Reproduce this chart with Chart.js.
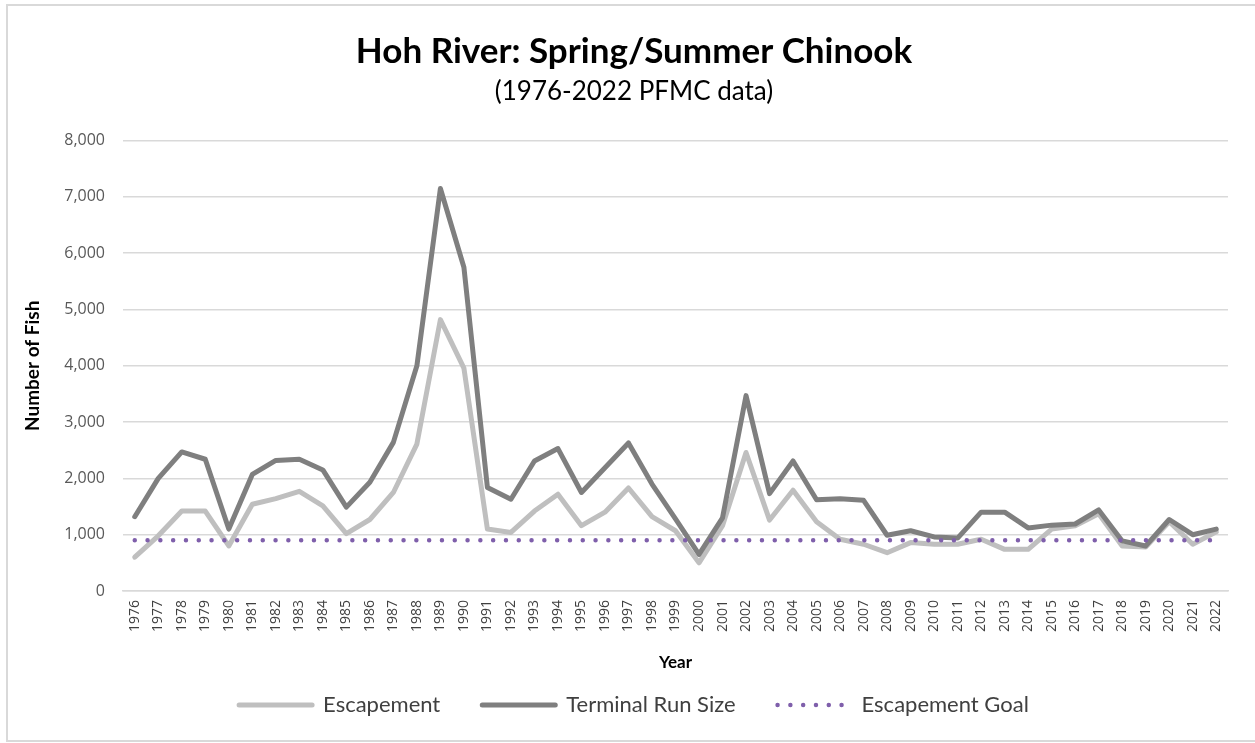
<!DOCTYPE html>
<html>
<head>
<meta charset="utf-8">
<script src="https://cdn.jsdelivr.net/npm/chart.js@4/dist/chart.umd.min.js"></script>
<style>
html,body{margin:0;padding:0;background:#fff;}
#c{display:block;}
</style>
</head>
<body>
<canvas id="c" width="1255" height="743"></canvas>
<script>
const years = ['1976','1977','1978','1979','1980','1981','1982','1983','1984','1985','1986','1987','1988','1989','1990','1991','1992','1993','1994','1995','1996','1997','1998','1999','2000','2001','2002','2003','2004','2005','2006','2007','2008','2009','2010','2011','2012','2013','2014','2015','2016','2017','2018','2019','2020','2021','2022'];
const escapement = [600,980,1420,1420,800,1540,1640,1770,1510,1020,1270,1750,2610,4820,3960,1100,1040,1420,1720,1160,1400,1830,1320,1070,500,1160,2460,1260,1790,1230,920,830,680,860,830,830,920,740,740,1100,1160,1370,800,780,1230,830,1050];
const terminalRunSize = [1320,2000,2470,2340,1100,2070,2320,2340,2150,1490,1930,2640,4000,7150,5750,1840,1630,2310,2530,1750,2190,2630,1900,1280,650,1300,3470,1730,2310,1620,1640,1610,990,1070,960,940,1400,1400,1120,1170,1190,1440,890,800,1270,1000,1100];
const escapementGoal = [900,900,900,900,900,900,900,900,900,900,900,900,900,900,900,900,900,900,900,900,900,900,900,900,900,900,900,900,900,900,900,900,900,900,900,900,900,900,900,900,900,900,900,900,900,900,900];
const yTicks = [0,1000,2000,3000,4000,5000,6000,7000,8000];

const frame = {
  id: 'frame',
  beforeDraw(chart) {
    const ctx = chart.ctx;
    ctx.save();
    ctx.fillStyle = '#ffffff';
    ctx.fillRect(0, 0, chart.width, chart.height);
    ctx.strokeStyle = '#d9d9d9';
    ctx.lineWidth = 2;
    ctx.strokeRect(7, 5, 1260, 736);
    ctx.restore();
  }
};

new Chart(document.getElementById('c'), {
  type: 'line',
  data: {
    labels: years,
    datasets: [
      { label: 'Escapement', data: escapement, borderColor: '#bfbfbf', backgroundColor: '#bfbfbf', borderWidth: 5, pointRadius: 0, tension: 0, order: 2, borderCapStyle: 'round', borderJoinStyle: 'round' },
      { label: 'Terminal Run Size', data: terminalRunSize, borderColor: '#7f7f7f', backgroundColor: '#7f7f7f', borderWidth: 5, pointRadius: 0, tension: 0, order: 1, borderCapStyle: 'round', borderJoinStyle: 'round' },
      { label: 'Escapement Goal', data: escapementGoal, borderColor: '#7f5fab', backgroundColor: '#7f5fab', borderWidth: 4.5, borderDash: [0, 12.8], borderCapStyle: 'round', pointRadius: 0, tension: 0, order: 0 }
    ]
  },
  options: {
    responsive: false,
    animation: false,
    devicePixelRatio: 1,
    layout: { padding: { left: 40, right: 27, top: 0, bottom: 17 } },
    plugins: {
      title: { display: true, text: 'Hoh River: Spring/Summer Chinook', color: '#000', font: { family: 'Lato', weight: 'bold', size: 35 }, padding: { top: 31, bottom: 0 } },
      subtitle: { display: true, text: '(1976-2022 PFMC data)', color: '#000', font: { family: 'Lato', size: 26 }, padding: { top: 3.4, bottom: 33 } },
      legend: {
        position: 'bottom',
        labels: {
          usePointStyle: true, pointStyle: 'line', pointStyleWidth: 73, color: '#404040',
          font: { family: 'Lato', size: 22 }, padding: 42,
          sort: (a, b) => a.datasetIndex - b.datasetIndex,
          generateLabels(chart) {
            const items = Chart.defaults.plugins.legend.labels.generateLabels(chart);
            items.forEach((it) => {
              const ds = chart.data.datasets[it.datasetIndex];
              it.strokeStyle = ds.borderColor;
              it.lineWidth = ds.borderWidth;
              it.lineDash = ds.borderDash || [];
              it.lineCap = ds.borderCapStyle || 'butt';
            });
            return items;
          }
        }
      },
      tooltip: { enabled: false }
    },
    scales: {
      x: {
        offset: true,
        grid: { display: false, drawTicks: false },
        border: { display: true, color: '#d9d9d9', width: 1.5 },
        ticks: { autoSkip: false, minRotation: 90, maxRotation: 90, color: '#404040', font: { family: 'Open Sans', size: 14 }, padding: 9 },
        title: { display: true, text: 'Year', color: '#000', font: { family: 'Lato', weight: 'bold', size: 17 }, padding: { top: 0, bottom: -21.2 } },
        afterFit(s) { s.height = 61; }
      },
      y: {
        min: 0, max: 8000,
        afterBuildTicks(s) { s.ticks = yTicks.map(v => ({ value: v })); },
        grid: { color: '#d9d9d9', lineWidth: 1.5, drawTicks: false },
        border: { display: false },
        ticks: { color: '#595959', font: { family: 'Open Sans', size: 16 }, padding: 18, callback: v => v.toLocaleString('en-US') },
        title: { display: true, text: 'Number of Fish', color: '#000', font: { family: 'Lato', weight: 'bold', size: 19 }, padding: { top: -18.4, bottom: 0 } },
        afterFit(s) { s.width = 83; }
      }
    }
  },
  plugins: [frame]
});
</script>
</body>
</html>
